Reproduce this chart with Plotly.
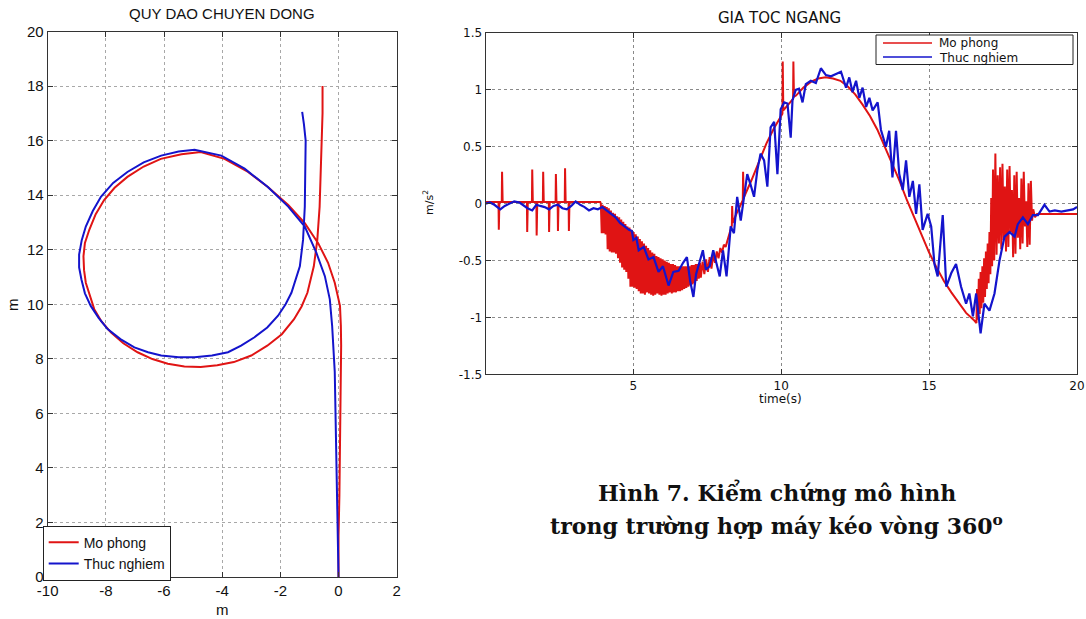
import plotly.graph_objects as go

# ---------------- data: trajectory (left) ----------------
traj_sim_x = [0.0, 0.0, 0.03, 0.05, 0.08, 0.1, 0.09, 0.08, 0.05, -0.13, -0.36, -0.7, -1.16, -1.73,
              -2.43, -3.11, -3.92, -4.74, -5.4, -6.11, -6.7, -7.26, -7.7, -8.06, -8.35, -8.57, -8.72,
              -8.77, -8.75, -8.69, -8.4, -8.15, -7.83, -7.4, -6.91, -6.4, -5.87, -5.3, -4.74, -4.17,
              -3.6, -3.0, -2.45, -1.95, -1.53, -1.27, -1.07, -0.85, -0.73, -0.65, -0.61, -0.56, -0.55, -0.55]
traj_sim_y = [0.0, 1.5, 3.0, 4.5, 6.0, 7.5, 8.5, 9.21, 9.94, 10.79, 11.52, 12.24, 12.97, 13.64,
              14.3, 14.85, 15.33, 15.58, 15.5, 15.33, 15.05, 14.67, 14.27, 13.82, 13.3, 12.73, 12.25,
              11.76, 11.25, 10.79, 9.82, 9.37, 8.97, 8.57, 8.24, 7.99, 7.82, 7.72, 7.7, 7.76,
              7.88, 8.12, 8.48, 8.9, 9.45, 9.92, 10.42, 11.39, 12.36, 13.58, 14.79, 16.0, 17.0, 18.0]

traj_exp_x = [0.0, -0.03, -0.06, -0.12, -0.13, -0.22, -0.3, -0.47, -0.76, -1.16, -1.73, -2.43, -3.23,
              -4.03, -4.95, -5.5, -6.1, -6.7, -7.26, -7.75, -8.17, -8.45, -8.69, -8.83, -8.92, -8.92,
              -8.84, -8.72, -8.52, -8.25, -7.94, -7.5, -7.02, -6.55, -6.1, -5.5, -4.95, -4.35, -3.8,
              -3.35, -2.89, -2.45, -2.08, -1.82, -1.62, -1.33, -1.22, -1.16, -1.14, -1.13, -1.19, -1.25]
traj_exp_y = [0.0, 1.6, 4.04, 6.5, 7.52, 9.21, 10.18, 11.03, 11.88, 12.85, 13.58, 14.3, 14.97,
              15.45, 15.66, 15.6, 15.45, 15.2, 14.85, 14.45, 13.94, 13.42, 12.85, 12.35, 11.82, 11.35,
              10.91, 10.4, 9.94, 9.5, 9.09, 8.72, 8.42, 8.24, 8.12, 8.06, 8.06, 8.12, 8.24,
              8.48, 8.79, 9.15, 9.58, 10.0, 10.42, 11.39, 12.36, 13.58, 14.79, 16.0, 16.6, 17.05]

traj_xticks = [-10, -8, -6, -4, -2, 0, 2]
traj_xlabels = ["-10", "-8", "-6", "-4", "-2", "0", "2"]
traj_yticks = [0, 2, 4, 6, 8, 10, 12, 14, 16, 18, 20]
traj_ylabels = ["0", "2", "4", "6", "8", "10", "12", "14", "16", "18", "20"]

# ---------------- data: lateral acceleration (right) ----------------
acc_sim_t = [0.0, 0.44, 0.45, 0.47, 0.55, 0.56, 0.58,
             1.40, 1.41, 1.43, 1.57, 1.58, 1.60,
             1.72, 1.73, 1.75, 1.94, 1.95, 1.97,
             2.14, 2.15, 2.17, 2.37, 2.38, 2.40,
             2.44, 2.45, 2.47, 2.68, 2.69, 2.71,
             2.81, 2.82, 2.84, 3.88,
             3.90, 3.93, 3.96, 3.99, 4.03, 4.06, 4.10, 4.13, 4.17, 4.20, 4.24, 4.27, 4.31, 4.34,
             4.38, 4.41, 4.45, 4.48, 4.52, 4.55, 4.59, 4.62, 4.66, 4.69, 4.73, 4.76, 4.80, 4.83,
             4.87, 4.90, 4.94, 4.97, 5.01, 5.04, 5.08, 5.11, 5.15, 5.18, 5.22, 5.25, 5.29, 5.32,
             5.36, 5.39, 5.43, 5.46, 5.50, 5.53, 5.57, 5.60, 5.64, 5.67, 5.71, 5.74, 5.78, 5.81,
             5.85, 5.88, 5.92, 5.95, 5.99, 6.02, 6.06, 6.09, 6.13, 6.16, 6.20, 6.23, 6.27, 6.30,
             6.34, 6.37, 6.41, 6.44, 6.48, 6.51, 6.55, 6.58, 6.62, 6.65, 6.69, 6.72, 6.76, 6.79,
             6.83, 6.86, 6.90, 6.93, 6.97, 7.00, 7.04, 7.07, 7.11, 7.14, 7.18, 7.21, 7.25, 7.28,
             7.34, 7.40, 7.46, 7.52, 7.58, 7.64, 7.70, 7.76, 7.82, 7.88, 7.94, 8.00, 8.06, 8.12,
             8.20,
             8.33, 8.34, 8.36, 8.50, 8.70, 8.71, 8.73, 9.00, 9.25, 9.50, 9.75, 10.0, 10.04, 10.05,
             10.07, 10.40, 10.41, 10.43, 10.5, 10.75, 11.0, 11.25, 11.5, 11.75, 12.0, 12.25, 12.5,
             12.75, 13.0, 13.25, 13.5, 13.75, 14.0, 14.25, 14.5, 14.75, 15.0, 15.25, 15.5, 15.75,
             16.0, 16.25, 16.5, 16.6,
             16.62, 16.65, 16.68, 16.71, 16.74, 16.77, 16.80, 16.83, 16.86, 16.89, 16.92, 16.95,
             16.98, 17.01, 17.04, 17.07, 17.10, 17.13, 17.16, 17.20, 17.24, 17.28, 17.32, 17.36,
             17.40, 17.44, 17.48, 17.52, 17.56, 17.60, 17.64, 17.68, 17.72, 17.76, 17.80, 17.84,
             17.88, 17.92, 17.96, 18.00, 18.04, 18.08, 18.12, 18.16, 18.20, 18.24, 18.28, 18.32,
             18.36, 18.40, 18.44, 18.48, 18.52, 18.58, 18.65, 20.0]
acc_sim_v = [0.015, 0.015, -0.23, 0.015, 0.015, 0.28, 0.015,
             0.015, -0.25, 0.015, 0.015, 0.30, 0.015,
             0.015, -0.28, 0.015, 0.015, 0.28, 0.015,
             0.015, -0.25, 0.015, 0.015, 0.26, 0.015,
             0.015, -0.24, 0.015, 0.015, 0.31, 0.015,
             0.015, -0.24, 0.015, 0.015,
             0.0, -0.26, -0.01, -0.26, -0.02, -0.27, -0.03, -0.40, -0.04, -0.42, -0.06, -0.43, -0.08, -0.43,
             -0.09, -0.44, -0.11, -0.48, -0.12, -0.52, -0.14, -0.56, -0.16, -0.58, -0.18, -0.60, -0.20, -0.66,
             -0.21, -0.73, -0.23, -0.73, -0.25, -0.74, -0.27, -0.75, -0.29, -0.77, -0.31, -0.79, -0.33, -0.79,
             -0.35, -0.80, -0.37, -0.78, -0.39, -0.79, -0.41, -0.80, -0.43, -0.81, -0.44, -0.80, -0.46, -0.79,
             -0.47, -0.80, -0.48, -0.81, -0.49, -0.80, -0.50, -0.80, -0.51, -0.79, -0.52, -0.78, -0.53, -0.79,
             -0.53, -0.78, -0.54, -0.78, -0.55, -0.77, -0.55, -0.77, -0.55, -0.76, -0.55, -0.75, -0.55, -0.74,
             -0.55, -0.73, -0.55, -0.72, -0.54, -0.71, -0.54, -0.70, -0.53, -0.68, -0.53, -0.66, -0.52, -0.65,
             -0.51, -0.62, -0.49, -0.60, -0.47, -0.57, -0.45, -0.52, -0.42, -0.48, -0.39, -0.43, -0.36, -0.38,
             -0.30,
             -0.19, -0.02, -0.17, -0.08, 0.03, 0.28, 0.05, 0.21, 0.37, 0.53, 0.66, 0.77, 0.79, 1.25,
             0.82, 0.92, 1.25, 0.94, 0.95, 1.02, 1.07, 1.10, 1.11, 1.10, 1.08, 1.03, 0.96,
             0.87, 0.77, 0.65, 0.50, 0.34, 0.20, 0.03, -0.12, -0.28, -0.43, -0.56, -0.68, -0.78,
             -0.87, -0.96, -1.02, -1.05,
             -0.75, -1.02, -0.66, -0.97, -0.60, -0.92, -0.55, -0.87, -0.48, -0.82, -0.42, -0.75,
             -0.35, -0.70, -0.25, -0.62, 0.05, -0.55, 0.30, -0.50, 0.44, -0.45, 0.25, -0.35,
             0.32, -0.40, 0.35, -0.32, 0.15, -0.42, 0.30, -0.38, 0.33, -0.25, 0.12, -0.47,
             0.25, -0.44, 0.28, -0.30, 0.05, -0.40, 0.22, -0.35, 0.28, -0.20, 0.02, -0.38,
             0.18, -0.36, 0.20, -0.15, -0.05, -0.12, -0.09, -0.09]

acc_exp_t = [0.0, 0.15, 0.3, 0.5, 0.65, 0.8, 0.97, 1.15, 1.3, 1.42, 1.58, 1.72, 1.85, 2.0, 2.15,
             2.3, 2.45, 2.6, 2.75, 2.9, 3.05, 3.2, 3.35, 3.5, 3.65, 3.8, 3.95, 4.1, 4.25, 4.4,
             4.55, 4.7, 4.85, 4.95,
             5.0, 5.1, 5.18, 5.35, 5.51, 5.68, 5.85, 6.0, 6.19, 6.35, 6.53, 6.68, 6.81, 6.92, 7.03,
             7.12, 7.35, 7.45, 7.58, 7.7, 7.92, 8.03, 8.15, 8.26,
             8.29, 8.4, 8.51, 8.63, 8.74, 8.85, 8.96, 9.08, 9.19, 9.3, 9.42, 9.53, 9.64, 9.76, 9.87,
             9.98, 10.1, 10.21, 10.32, 10.38, 10.49, 10.6, 10.72, 10.83, 11.0, 11.17, 11.34, 11.51,
             11.68, 11.85, 12.02, 12.19, 12.3, 12.41, 12.53, 12.64, 12.75, 12.87, 12.98, 13.09, 13.26,
             13.37, 13.54, 13.65, 13.76, 13.88, 13.99, 14.11, 14.22, 14.33, 14.45, 14.56, 14.67,
             14.78, 14.95, 15.07, 15.18, 15.29, 15.46, 15.58, 15.75, 15.91, 16.08, 16.25, 16.36,
             16.48, 16.59, 16.74, 16.87, 17.04, 17.21, 17.38, 17.55, 17.72, 17.89, 18.0, 18.17,
             18.34, 18.51, 18.68, 18.9, 19.07, 19.25, 19.47, 19.7, 19.87, 20.0]
acc_exp_v = [0.0, 0.01, -0.01, -0.05, -0.02, 0.0, 0.02, 0.01, -0.02, -0.04, -0.06, -0.01, -0.02, -0.03, -0.05,
             -0.02, -0.01, -0.04, -0.05, -0.02, 0.02, -0.01, -0.03, -0.06, -0.04, -0.05, -0.03, -0.06, -0.09, -0.12,
             -0.17, -0.2, -0.23, -0.24,
             -0.32, -0.3, -0.41, -0.38, -0.49, -0.47, -0.6, -0.55, -0.72, -0.6, -0.59, -0.52, -0.47, -0.68, -0.82,
             -0.62, -0.41, -0.58, -0.55, -0.41, -0.64, -0.41, -0.64, -0.3,
             -0.2, -0.26, 0.06, -0.15, 0.08, 0.26, 0.17, 0.06, 0.29, 0.44, 0.38, 0.15, 0.67, 0.72, 0.26,
             0.83, 0.89, 0.88, 0.58, 0.91, 1.0, 1.01, 0.89, 1.05, 1.08, 1.06, 1.19, 1.13,
             1.12, 1.14, 1.16, 1.02, 1.11, 0.98, 1.08, 0.93, 1.02, 0.85, 0.93, 0.82, 0.89,
             0.65, 0.5, 0.64, 0.23, 0.64, 0.26, 0.12, 0.38, 0.06, 0.2, -0.09, 0.17,
             -0.23, -0.09, -0.2, -0.53, -0.64, -0.1, -0.73, -0.61, -0.53, -0.73, -0.88, -0.79,
             -0.99, -0.79, -1.14, -0.88, -0.94, -0.79, -0.5, -0.29, -0.25, -0.29, -0.18, -0.12,
             -0.18, -0.1, -0.1, -0.01, -0.07, -0.06, -0.07, -0.06, -0.05, -0.03]

acc_xticks = [5, 10, 15, 20]
acc_xlabels = ["5", "10", "15", "20"]
acc_yticks = [-1.5, -1, -0.5, 0, 0.5, 1, 1.5]
acc_ylabels = ["-1.5", "-1", "-0.5", "0", "0.5", "1", "1.5"]

series_names = ["Mo phong", "Thuc nghiem"]

RED = "#e01414"
BLUE = "#1414cc"
W, H = 1086, 619


def px(x):
    return x / W


def py(y):
    return 1 - y / H


fig = go.Figure()
fig.add_trace(go.Scatter(x=traj_sim_x, y=traj_sim_y, mode="lines", name=series_names[0],
                         line=dict(color=RED, width=2), xaxis="x", yaxis="y"))
fig.add_trace(go.Scatter(x=traj_exp_x, y=traj_exp_y, mode="lines", name=series_names[1],
                         line=dict(color=BLUE, width=2), xaxis="x", yaxis="y"))
fig.add_trace(go.Scatter(x=acc_sim_t, y=acc_sim_v, mode="lines", name=series_names[0],
                         line=dict(color=RED, width=2), xaxis="x2", yaxis="y2", showlegend=False))
fig.add_trace(go.Scatter(x=acc_exp_t, y=acc_exp_v, mode="lines", name=series_names[1],
                         line=dict(color=BLUE, width=2.2), xaxis="x2", yaxis="y2", showlegend=False))

axis_common = dict(showline=True, linecolor="#333333", linewidth=1, mirror="allticks",
                   ticks="inside", ticklen=5, tickcolor="#333333", zeroline=False,
                   showgrid=True, griddash="dot", gridwidth=1, automargin=False)
left_font = dict(family="Liberation Sans, Arial", size=15, color="#111111")
right_font = dict(family="DejaVu Sans", size=12, color="#111111")

fig.update_layout(
    width=W, height=H, margin=dict(l=0, r=0, t=0, b=0, autoexpand=False),
    paper_bgcolor="white", plot_bgcolor="white",
    xaxis=dict(domain=[px(47.7), px(396.7)], range=[-10, 2], tickvals=traj_xticks,
               ticktext=traj_xlabels, tickfont=left_font, gridcolor="#a8a8a8",
               anchor="y", **axis_common),
    yaxis=dict(domain=[py(577), py(31.5)], range=[0, 20], tickvals=traj_yticks,
               ticktext=traj_ylabels, tickfont=left_font, gridcolor="#a8a8a8",
               anchor="x", **axis_common),
    xaxis2=dict(domain=[px(485.5), px(1077)], range=[0, 20], tickvals=acc_xticks,
                ticktext=acc_xlabels, tickfont=right_font, gridcolor="#8a8a8a",
                anchor="y2", **axis_common),
    yaxis2=dict(domain=[py(374.3), py(33)], range=[-1.5, 1.5], tickvals=acc_yticks,
                ticktext=acc_ylabels, tickfont=right_font, gridcolor="#8a8a8a",
                anchor="x2", **axis_common),
    legend=dict(x=px(42.7), y=py(525.7), xanchor="left", yanchor="top",
                bgcolor="white", bordercolor="#222222", borderwidth=1,
                font=dict(family="Liberation Sans, Arial", size=14, color="#111111"),
                itemwidth=30, tracegroupgap=0),
    showlegend=True,
)

# legend box of the right panel (drawn with shapes + text)
fig.add_shape(type="rect", xref="paper", yref="paper", x0=px(876), x1=px(1073),
              y0=py(64.5), y1=py(35), line=dict(color="#222222", width=1),
              fillcolor="white", layer="above")
fig.add_shape(type="line", xref="paper", yref="paper", x0=px(883), x1=px(932),
              y0=py(43), y1=py(43), line=dict(color=RED, width=1.5), layer="above")
fig.add_shape(type="line", xref="paper", yref="paper", x0=px(883), x1=px(932),
              y0=py(57), y1=py(57), line=dict(color=BLUE, width=1.5), layer="above")

annos = [
    dict(text=series_names[0], x=px(937), y=py(43), xanchor="left",
         font=dict(family="DejaVu Sans", size=12, color="#111111")),
    dict(text=series_names[1], x=px(937), y=py(57.5), xanchor="left",
         font=dict(family="DejaVu Sans", size=12, color="#111111")),
    dict(text="QUY DAO CHUYEN DONG", x=px(222), y=py(13.5),
         font=dict(family="Liberation Sans, Arial", size=15, color="#111111")),
    dict(text="m", x=px(222), y=py(609),
         font=dict(family="Liberation Sans, Arial", size=15, color="#111111")),
    dict(text="m", x=px(13), y=py(305), textangle=-90,
         font=dict(family="Liberation Sans, Arial", size=15, color="#111111")),
    dict(text="GIA TOC NGANG", x=px(779), y=py(18),
         font=dict(family="DejaVu Sans", size=15, color="#111111")),
    dict(text="time(s)", x=px(780), y=py(399),
         font=dict(family="DejaVu Sans", size=12, color="#111111")),
    dict(text="m/s<sup>2</sup>", x=px(428), y=py(203), textangle=-90,
         font=dict(family="DejaVu Sans", size=11, color="#111111")),
    dict(text="<b>Hình 7. Kiểm chứng mô hình</b>", x=px(777), y=py(492),
         font=dict(family="DejaVu Serif", size=22, color="#111111")),
    dict(text="<b>trong trường hợp máy kéo vòng 360<sup>o</sup></b>", x=px(776), y=py(525),
         font=dict(family="DejaVu Serif", size=22, color="#111111")),
]
for a in annos:
    a.setdefault("xanchor", "center")
    a.update(xref="paper", yref="paper", yanchor="middle", showarrow=False)
    fig.add_annotation(**a)

# remove the default 8px page margin so the figure fills the window exactly
fig.write_html("out.html", config={"displayModeBar": False},
               post_script="document.body.style.margin='0px';")
